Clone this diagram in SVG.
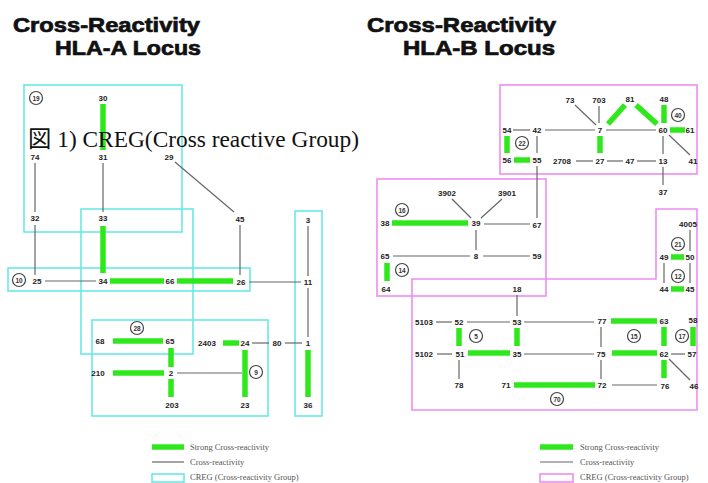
<svg xmlns="http://www.w3.org/2000/svg" width="708" height="483" viewBox="0 0 708 483">
<style>
.g{stroke:#2ee81c;stroke-width:5.5;fill:none}
.l{stroke:#666;stroke-width:1.2;fill:none}
.bc{stroke:#6ae8e8;stroke-width:1.6;fill:none}
.bm{stroke:#f08cf0;stroke-width:1.6;fill:none}
.n{font-family:"Liberation Sans",Arial,sans-serif;font-weight:bold;font-size:8px;fill:#222;text-anchor:middle}
.c circle{fill:#fff;stroke:#444;stroke-width:1.2}
.c text{font-family:"Liberation Sans",Arial,sans-serif;font-weight:bold;font-size:6.5px;fill:#333;text-anchor:middle}
.t{font-family:"Liberation Sans",Arial,sans-serif;font-weight:bold;font-size:20px;fill:#111;stroke:#111;stroke-width:0.7}
.lg{font-family:"Liberation Serif","Times New Roman",serif;font-size:8.5px;fill:#555}
</style>
<rect width="708" height="483" fill="#fff"/>
<g id="titles">
<text class="t" x="13" y="32" textLength="187" lengthAdjust="spacingAndGlyphs">Cross-Reactivity</text>
<text class="t" x="55" y="55" textLength="146" lengthAdjust="spacingAndGlyphs">HLA-A Locus</text>
<text class="t" x="367" y="32" textLength="189" lengthAdjust="spacingAndGlyphs">Cross-Reactivity</text>
<text class="t" x="403" y="55" textLength="152" lengthAdjust="spacingAndGlyphs">HLA-B Locus</text>
</g>
<g id="creg-boxes">
<rect class="bc" x="24" y="85" width="158" height="147"/>
<rect class="bc" x="81" y="209" width="112" height="145"/>
<rect class="bc" x="8" y="268" width="242" height="23"/>
<rect class="bc" x="92" y="320" width="176" height="96"/>
<rect class="bc" x="295" y="211" width="27" height="205"/>
<rect class="bm" x="500" y="85" width="197" height="89"/>
<rect class="bm" x="377" y="179" width="169" height="117"/>
<polygon class="bm" points="412,279 656,279 656,209 697,209 697,410 412,410"/>
</g>
<g id="connectors">
<line class="g" x1="103" y1="104" x2="103" y2="150"/>
<line class="g" x1="103" y1="226" x2="103" y2="273"/>
<line class="g" x1="110" y1="281" x2="164" y2="281"/>
<line class="g" x1="177" y1="281" x2="233" y2="281"/>
<line class="g" x1="113" y1="341" x2="163" y2="341"/>
<line class="g" x1="113" y1="373" x2="164" y2="373"/>
<line class="g" x1="171" y1="348" x2="171" y2="367"/>
<line class="g" x1="171" y1="379" x2="171" y2="397"/>
<line class="g" x1="223" y1="343" x2="239" y2="343"/>
<line class="g" x1="245" y1="350" x2="245" y2="397"/>
<line class="g" x1="308" y1="350" x2="308" y2="397"/>
<line class="l" x1="103" y1="163" x2="103" y2="212"/>
<line class="l" x1="35" y1="163" x2="35" y2="212"/>
<line class="l" x1="175" y1="162" x2="234" y2="212"/>
<line class="l" x1="35" y1="225" x2="35" y2="275"/>
<line class="l" x1="45" y1="281" x2="96" y2="281"/>
<line class="l" x1="240" y1="225" x2="240" y2="275"/>
<line class="l" x1="249" y1="282" x2="301" y2="282"/>
<line class="l" x1="308" y1="226" x2="308" y2="276"/>
<line class="l" x1="308" y1="288" x2="308" y2="337"/>
<line class="l" x1="252" y1="343" x2="269" y2="343"/>
<line class="l" x1="285" y1="343" x2="302" y2="343"/>
<line class="l" x1="177" y1="373" x2="242" y2="373"/>
<line class="g" x1="507" y1="136" x2="507" y2="153"/>
<line class="g" x1="514" y1="160" x2="530" y2="160"/>
<line class="g" x1="608" y1="124" x2="625" y2="105"/>
<line class="g" x1="636" y1="105" x2="657" y2="124"/>
<line class="g" x1="664" y1="105" x2="664" y2="123"/>
<line class="g" x1="670" y1="130" x2="685" y2="130"/>
<line class="g" x1="600" y1="136" x2="600" y2="153"/>
<line class="g" x1="392" y1="223" x2="468" y2="223"/>
<line class="g" x1="387" y1="263" x2="387" y2="281"/>
<line class="g" x1="671" y1="257" x2="684" y2="257"/>
<line class="g" x1="671" y1="289" x2="684" y2="289"/>
<line class="g" x1="459" y1="328" x2="459" y2="346"/>
<line class="g" x1="517" y1="328" x2="517" y2="346"/>
<line class="g" x1="611" y1="321" x2="657" y2="321"/>
<line class="g" x1="664" y1="327" x2="664" y2="346"/>
<line class="g" x1="693" y1="327" x2="693" y2="346"/>
<line class="g" x1="468" y1="353" x2="510" y2="353"/>
<line class="g" x1="612" y1="353" x2="657" y2="353"/>
<line class="g" x1="664" y1="360" x2="664" y2="378"/>
<line class="g" x1="514" y1="385" x2="595" y2="385"/>
<line class="l" x1="513" y1="130" x2="530" y2="130"/>
<line class="l" x1="545" y1="130" x2="595" y2="130"/>
<line class="l" x1="606" y1="130" x2="656" y2="130"/>
<line class="l" x1="575" y1="105" x2="596" y2="125"/>
<line class="l" x1="599" y1="106" x2="599" y2="123"/>
<line class="l" x1="537" y1="136" x2="537" y2="153"/>
<line class="l" x1="663" y1="136" x2="663" y2="154"/>
<line class="l" x1="669" y1="135" x2="690" y2="155"/>
<line class="l" x1="576" y1="161" x2="593" y2="161"/>
<line class="l" x1="607" y1="161" x2="623" y2="161"/>
<line class="l" x1="637" y1="161" x2="656" y2="161"/>
<line class="l" x1="663" y1="167" x2="663" y2="185"/>
<line class="l" x1="537" y1="166" x2="537" y2="218"/>
<line class="l" x1="452" y1="199" x2="471" y2="218"/>
<line class="l" x1="502" y1="199" x2="481" y2="218"/>
<line class="l" x1="484" y1="224" x2="530" y2="224"/>
<line class="l" x1="476" y1="230" x2="476" y2="250"/>
<line class="l" x1="393" y1="256" x2="470" y2="256"/>
<line class="l" x1="483" y1="256" x2="530" y2="256"/>
<line class="l" x1="690" y1="230" x2="690" y2="251"/>
<line class="l" x1="664" y1="263" x2="664" y2="283"/>
<line class="l" x1="690" y1="263" x2="690" y2="283"/>
<line class="l" x1="517" y1="295" x2="517" y2="316"/>
<line class="l" x1="436" y1="322" x2="452" y2="322"/>
<line class="l" x1="467" y1="322" x2="510" y2="322"/>
<line class="l" x1="524" y1="322" x2="594" y2="322"/>
<line class="l" x1="601" y1="327" x2="601" y2="347"/>
<line class="l" x1="437" y1="354" x2="452" y2="354"/>
<line class="l" x1="524" y1="354" x2="594" y2="354"/>
<line class="l" x1="671" y1="354" x2="685" y2="354"/>
<line class="l" x1="459" y1="360" x2="459" y2="379"/>
<line class="l" x1="601" y1="360" x2="601" y2="379"/>
<line class="l" x1="612" y1="385" x2="657" y2="385"/>
<line class="l" x1="669" y1="359" x2="690" y2="380"/>
</g>
<g id="hla-a-nodes">
<g id="a30"><text class="n" x="103" y="101">30</text></g>
<g id="a31"><text class="n" x="103" y="160">31</text></g>
<g id="a74"><text class="n" x="35" y="160">74</text></g>
<g id="a29"><text class="n" x="169" y="160">29</text></g>
<g id="a32"><text class="n" x="35" y="221">32</text></g>
<g id="a33"><text class="n" x="103" y="221">33</text></g>
<g id="a45"><text class="n" x="240" y="222">45</text></g>
<g id="a3"><text class="n" x="308" y="223">3</text></g>
<g id="a25"><text class="n" x="37" y="284">25</text></g>
<g id="a34"><text class="n" x="103" y="284">34</text></g>
<g id="a66"><text class="n" x="170" y="284">66</text></g>
<g id="a26"><text class="n" x="241" y="285">26</text></g>
<g id="a11"><text class="n" x="308" y="285">11</text></g>
<g id="a68"><text class="n" x="100" y="344">68</text></g>
<g id="a65"><text class="n" x="170" y="344">65</text></g>
<g id="a2403"><text class="n" x="207" y="346">2403</text></g>
<g id="a24"><text class="n" x="245" y="346">24</text></g>
<g id="a80"><text class="n" x="277" y="346">80</text></g>
<g id="a1"><text class="n" x="308" y="346">1</text></g>
<g id="a210"><text class="n" x="98" y="376">210</text></g>
<g id="a2"><text class="n" x="171" y="376">2</text></g>
<g id="a203"><text class="n" x="172" y="408">203</text></g>
<g id="a23"><text class="n" x="245" y="408">23</text></g>
<g id="a36"><text class="n" x="308" y="408">36</text></g>
<g id="creg-a19" class="c"><circle cx="36" cy="98" r="6.5"/><text x="36" y="100.5">19</text></g>
<g id="creg-a10" class="c"><circle cx="19" cy="280" r="6.5"/><text x="19" y="282.5">10</text></g>
<g id="creg-a28" class="c"><circle cx="137" cy="328" r="6.5"/><text x="137" y="330.5">28</text></g>
<g id="creg-a9" class="c"><circle cx="256" cy="372" r="6.5"/><text x="256" y="374.5">9</text></g>
</g>
<g id="hla-b-nodes">
<g id="b73"><text class="n" x="570" y="103">73</text></g>
<g id="b703"><text class="n" x="599" y="103">703</text></g>
<g id="b81"><text class="n" x="630" y="102">81</text></g>
<g id="b48"><text class="n" x="664" y="102">48</text></g>
<g id="b54"><text class="n" x="507" y="133">54</text></g>
<g id="b42"><text class="n" x="537" y="133">42</text></g>
<g id="b7"><text class="n" x="600" y="133">7</text></g>
<g id="b60"><text class="n" x="663" y="133">60</text></g>
<g id="b61"><text class="n" x="690" y="133">61</text></g>
<g id="b56"><text class="n" x="507" y="163">56</text></g>
<g id="b55"><text class="n" x="537" y="163">55</text></g>
<g id="b2708"><text class="n" x="562" y="164">2708</text></g>
<g id="b27"><text class="n" x="600" y="164">27</text></g>
<g id="b47"><text class="n" x="630" y="164">47</text></g>
<g id="b13"><text class="n" x="663" y="164">13</text></g>
<g id="b41"><text class="n" x="693" y="164">41</text></g>
<g id="b37"><text class="n" x="663" y="195">37</text></g>
<g id="b3902"><text class="n" x="447" y="196">3902</text></g>
<g id="b3901"><text class="n" x="507" y="196">3901</text></g>
<g id="b38"><text class="n" x="385" y="226">38</text></g>
<g id="b39"><text class="n" x="476" y="226">39</text></g>
<g id="b67"><text class="n" x="537" y="228">67</text></g>
<g id="b65"><text class="n" x="385" y="259">65</text></g>
<g id="b8"><text class="n" x="476" y="259">8</text></g>
<g id="b59"><text class="n" x="537" y="259">59</text></g>
<g id="b64"><text class="n" x="386" y="292">64</text></g>
<g id="b18"><text class="n" x="517" y="292">18</text></g>
<g id="b4005"><text class="n" x="688" y="227">4005</text></g>
<g id="b49"><text class="n" x="664" y="260">49</text></g>
<g id="b50"><text class="n" x="690" y="260">50</text></g>
<g id="b44"><text class="n" x="664" y="292">44</text></g>
<g id="b45"><text class="n" x="690" y="292">45</text></g>
<g id="b5103"><text class="n" x="424" y="325">5103</text></g>
<g id="b52"><text class="n" x="459" y="325">52</text></g>
<g id="b53"><text class="n" x="517" y="325">53</text></g>
<g id="b77"><text class="n" x="602" y="324">77</text></g>
<g id="b63"><text class="n" x="664" y="324">63</text></g>
<g id="b58"><text class="n" x="693" y="323">58</text></g>
<g id="b5102"><text class="n" x="424" y="357">5102</text></g>
<g id="b51"><text class="n" x="460" y="357">51</text></g>
<g id="b35"><text class="n" x="517" y="357">35</text></g>
<g id="b75"><text class="n" x="601" y="357">75</text></g>
<g id="b62"><text class="n" x="664" y="357">62</text></g>
<g id="b57"><text class="n" x="692" y="357">57</text></g>
<g id="b78"><text class="n" x="459" y="388">78</text></g>
<g id="b71"><text class="n" x="506" y="388">71</text></g>
<g id="b72"><text class="n" x="602" y="388">72</text></g>
<g id="b76"><text class="n" x="665" y="389">76</text></g>
<g id="b46"><text class="n" x="694" y="389">46</text></g>
<g id="creg-b22" class="c"><circle cx="522" cy="143" r="6.5"/><text x="522" y="145.5">22</text></g>
<g id="creg-b40" class="c"><circle cx="678" cy="115" r="6.5"/><text x="678" y="117.5">40</text></g>
<g id="creg-b16" class="c"><circle cx="402" cy="210" r="6.5"/><text x="402" y="212.5">16</text></g>
<g id="creg-b14" class="c"><circle cx="402" cy="270" r="6.5"/><text x="402" y="272.5">14</text></g>
<g id="creg-b21" class="c"><circle cx="678" cy="244" r="6.5"/><text x="678" y="246.5">21</text></g>
<g id="creg-b12" class="c"><circle cx="678" cy="276" r="6.5"/><text x="678" y="278.5">12</text></g>
<g id="creg-b5" class="c"><circle cx="476" cy="336" r="6.5"/><text x="476" y="338.5">5</text></g>
<g id="creg-b15" class="c"><circle cx="634" cy="336" r="6.5"/><text x="634" y="338.5">15</text></g>
<g id="creg-b17" class="c"><circle cx="682" cy="336" r="6.5"/><text x="682" y="338.5">17</text></g>
<g id="creg-b70" class="c"><circle cx="557" cy="399" r="6.5"/><text x="557" y="401.5">70</text></g>
</g>
<g id="legend-a">
<line class="g" x1="152" y1="447" x2="184" y2="447"/>
<line class="l" x1="152" y1="462" x2="184" y2="462"/>
<rect class="bc" x="152" y="474" width="32" height="8"/>
<text class="lg" x="190" y="450">Strong Cross-reactivity</text>
<text class="lg" x="190" y="465">Cross-reactivity</text>
<text class="lg" x="190" y="480">CREG (Cross-reactivity Group)</text>
</g>
<g id="legend-b">
<line class="g" x1="540" y1="447" x2="573" y2="447"/>
<line class="l" x1="540" y1="462" x2="573" y2="462"/>
<rect class="bm" x="540" y="474" width="33" height="8"/>
<text class="lg" x="580" y="450">Strong Cross-reactivity</text>
<text class="lg" x="580" y="465">Cross-reactivity</text>
<text class="lg" x="580" y="480">CREG (Cross-reactivity Group)</text>
</g>
<g id="caption">
<text x="28" y="147" font-family="'Liberation Serif','Noto Sans CJK JP',serif" font-size="23" fill="#111" textLength="331" lengthAdjust="spacingAndGlyphs">図 1) CREG(Cross reactive Group)</text>
</g>
</svg>
